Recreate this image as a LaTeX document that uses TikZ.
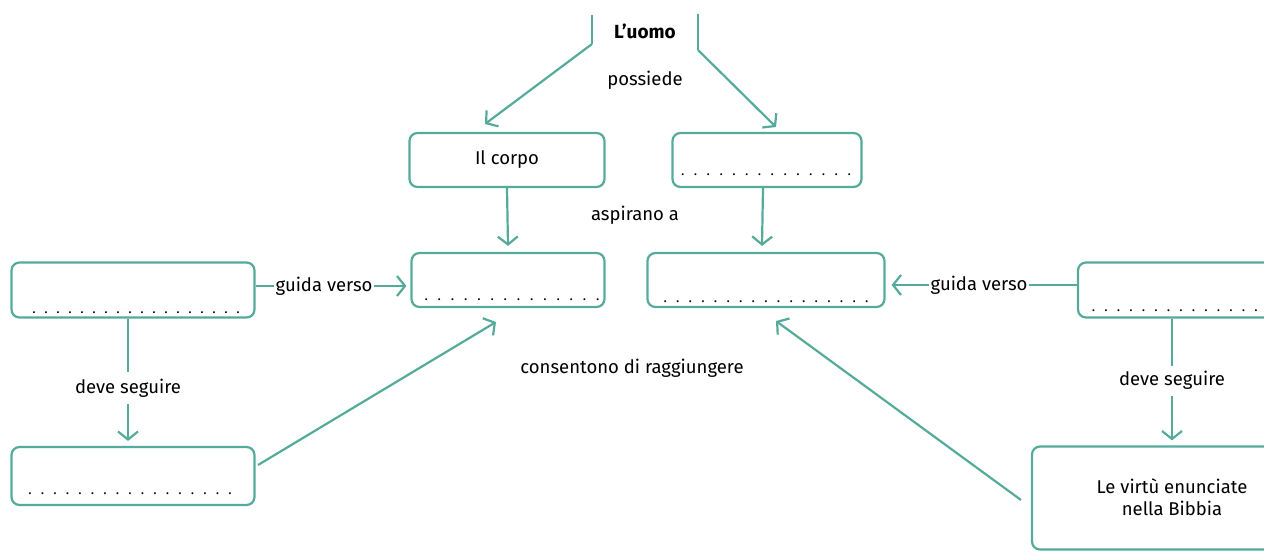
\documentclass[tikz,border=0pt]{standalone}
\usepackage{fontspec}
\setmainfont{Fira Sans}
\usetikzlibrary{arrows.meta}
\definecolor{teal1}{HTML}{55AB9A}
\newcommand\dotrow[2]{\foreach\i in {1,...,#1}{\makebox[#2][c]{.}}}
\begin{document}
\begin{tikzpicture}[x=1pt,y=-1pt,
  box/.style={draw=teal1, line width=2.2pt, rounded corners=8pt, inner sep=0pt},
  lbl/.style={font=\fontsize{18.5}{22}\selectfont, text=black, inner sep=1pt},
  dotsty/.style={font=\fontsize{14}{16}\selectfont, inner sep=0pt, anchor=base},
  conn/.style={draw=teal1, line width=2.2pt},
  arr/.style={conn, -{Straight Barb[length=8pt,width=20pt]}}
]
\useasboundingbox (0,0) rectangle (1264,557);
\clip (0,0) rectangle (1264,557);
% top
\node[lbl, font=\fontsize{19}{22}\selectfont\bfseries] (uomo) at (645,31) {L’uomo};
\coordinate (lb1) at (592,15); \coordinate (lb2) at (592,44);
\coordinate (rb1) at (698,14); \coordinate (rb2) at (698,50);
\draw[conn] (lb1) -- (lb2);
\draw[conn] (rb1) -- (rb2);
\node[lbl] (poss) at (645,80) {possiede};
% boxes
\node[box, minimum width=195pt, minimum height=54pt] (corpo) at (507,160) {};
\node[lbl] (corpot) at (507,160) {Il corpo};
\node[box, minimum width=189pt, minimum height=54pt] (anima) at (767,160) {};
\node[dotsty] (animad) at (766,175) {\dotrow{14}{12.8pt}};
\node[box, minimum width=193pt, minimum height=54pt] (aimL) at (508,280) {};
\node[dotsty] (aimLd) at (512,300) {\dotrow{14}{13.2pt}};
\node[box, minimum width=237pt, minimum height=54pt] (aimR) at (766,280) {};
\node[dotsty] (aimRd) at (766,302) {\dotrow{17}{12.6pt}};
\node[box, minimum width=243pt, minimum height=55pt] (boxL) at (133,290) {};
\node[dotsty] (boxLd) at (136,313) {\dotrow{18}{12pt}};
\node[box, minimum width=200pt, minimum height=55pt] (boxR) at (1178,290) {};
\node[dotsty, anchor=base west] (boxRd) at (1087,311) {\dotrow{14}{12.5pt}};
\node[box, minimum width=243pt, minimum height=58pt] (bL) at (133,476) {};
\node[dotsty] (bLd) at (130,494) {\dotrow{17}{12.5pt}};
\node[box, minimum width=280pt, minimum height=103pt] (bR) at (1172,498) {};
\node[lbl, align=center] (bRt) at (1172,497) {Le virtù enunciate\\nella Bibbia};
% labels
\node[lbl] (asp) at (635,215) {aspirano a};
\node[lbl] (gvL) at (324,286) {guida verso};
\node[lbl] (gvR) at (979,285) {guida verso};
\node[lbl] (dsL) at (128,388) {deve seguire};
\node[lbl] (dsR) at (1172,380) {deve seguire};
\node[lbl] (cons) at (632,368) {consentono di raggiungere};
% connectors
\coordinate (aL) at (485,124);
\coordinate (aR) at (776,127);
\draw[arr] (lb2) -- (aL);
\draw[arr] (rb2) -- (aR);
\draw[arr] (corpo.south) -- ([yshift=6pt]aimL.north);
\draw[arr] ([xshift=-4pt]anima.south) -- ([xshift=-4pt,yshift=6pt]aimR.north);
\draw[conn] (boxL.east |- gvL.west) -- (gvL.west);
\draw[arr] (gvL.east) -- ([xshift=-4pt]aimL.west |- gvL.east);
\draw[conn] (boxR.west |- gvR.east) -- (gvR.east);
\draw[arr] (gvR.west) -- ([xshift=6pt]aimR.east |- gvR.west);
\draw[conn] (dsL.north |- boxL.south) -- ([yshift=6pt]dsL.north);
\draw[arr] ([yshift=-6pt]dsL.south) -- ([yshift=5pt]dsL.south |- bL.north);
\draw[conn] (dsR.north |- boxR.south) -- ([yshift=4pt]dsR.north);
\draw[arr] ([yshift=-6pt]dsR.south) -- ([yshift=5pt]dsR.south |- bR.north);
\coordinate (s1) at (258,465);
\coordinate (t1) at (496,322);
\draw[arr] (s1) -- (t1);
\coordinate (s2) at (1021,500);
\coordinate (t2) at (776,321);
\draw[arr] (s2) -- (t2);
\end{tikzpicture}
\end{document}
